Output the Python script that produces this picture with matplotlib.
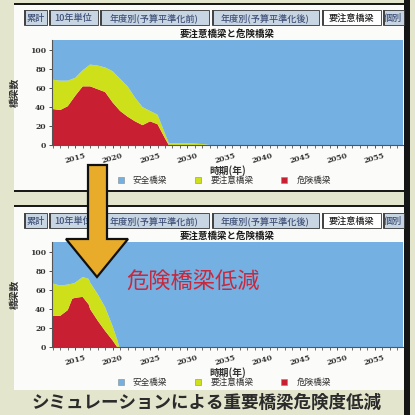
import matplotlib
matplotlib.use('Agg')
import matplotlib.pyplot as plt
from matplotlib.patches import Rectangle, Polygon
from matplotlib.lines import Line2D
from matplotlib.ticker import MultipleLocator
import numpy as np

plt.rcParams['font.family'] = ['Noto Sans CJK JP', 'DejaVu Sans']

# --- データ ---
tab_labels = ['累計', '10年単位', '年度別(予算平準化前)', '年度別(予算平準化後)', '要注意橋梁', '個別']
chart_title = '要注意橋梁と危険橋梁'
legend_labels = ['安全橋梁', '要注意橋梁', '危険橋梁']
total_bridges = 120

# 対策前 (上のグラフ)
years_before = [2012, 2013, 2014, 2015, 2016, 2017, 2018, 2019, 2020, 2021, 2022,
                2023, 2024, 2025, 2026, 2027, 2027.5, 2028, 2030, 2032, 2033, 2059]
warn_top_before = [69, 68, 68, 71, 79, 85, 84, 82, 78, 70, 62,
                   50, 40, 36, 32, 12, 2, 2, 2, 1, 0, 0]
danger_before = [38, 37, 41, 52, 62, 62, 59, 56, 45, 36, 30,
                 25, 21, 25, 22, 7, 0, 0, 0, 0, 0, 0]

# 対策後 (下のグラフ)
years_after = [2012, 2013, 2014, 2014.6, 2015, 2016, 2016.8, 2017, 2018, 2019,
               2020, 2020.6, 2020.9, 2059]
warn_top_after = [67, 65, 66, 67, 68, 74, 72, 68, 56, 42, 22, 8, 0, 0]
danger_after = [33, 33, 39, 51, 52, 53, 45, 40, 28, 17, 7, 0, 0, 0]

C_SAFE = '#74b0e2'
C_WARN = '#cde01a'
C_DANGER = '#c81f32'

W = H = 415


def fbox(x0, y0, x1, y1):
    """ピクセル座標(左上原点)を図の座標に変換"""
    return [x0 / W, 1 - y1 / H, (x1 - x0) / W, (y1 - y0) / H]


def fxy(x, y):
    return (x / W, 1 - y / H)


fig = plt.figure(figsize=(4.15, 4.15), dpi=100)
fig.patch.set_facecolor('#e3e5cc')


def add_rect(x0, y0, x1, y1, fc, ec='none', lw=0, z=0.5):
    r = Rectangle((x0 / W, 1 - y1 / H), (x1 - x0) / W, (y1 - y0) / H,
                  transform=fig.transFigure, facecolor=fc, edgecolor=ec,
                  linewidth=lw, zorder=z)
    fig.add_artist(r)


def draw_panel(top, bottom, years, warn_top, danger, ax_top, ax_bottom, y_tabs):
    # パネル背景
    add_rect(14, top, 405, bottom, '#fbfbf9', z=0.1)
    add_rect(14, top - 2, 405, top, '#1a1a1a', z=0.2)

    # タブ
    tab_x = [(24, 47), (49, 98), (100, 209), (212, 319), (322, 381), (383, 404)]
    for i, (label, (x0, x1)) in enumerate(zip(tab_labels, tab_x)):
        selected = label == '要注意橋梁'
        add_rect(x0, y_tabs, x1, y_tabs + 15, '#ffffff' if selected else '#c8d5e2',
                 ec='#333333', lw=0.6, z=0.3)
        add_rect(x0, y_tabs, x0 + 1.5, y_tabs + 15, '#444444', z=0.35)
        fig.text(*fxy((x0 + x1) / 2, y_tabs + 8), label, ha='center', va='center',
                 fontsize=6.6, fontweight='medium',
                 color='#222222' if selected else '#3f5078', clip_on=True)

    ax = fig.add_axes(fbox(52, ax_top, 403, ax_bottom))
    ax.set_zorder(1)
    years = np.array(years)
    warn_top = np.array(warn_top)
    danger = np.array(danger)
    safe = total_bridges - warn_top
    ax.stackplot(years, danger, warn_top - danger, safe,
                 colors=[C_DANGER, C_WARN, C_SAFE], linewidth=0)
    ax.set_xlim(2011.9, 2058.8)
    ax.set_ylim(0, 111)
    ax.set_yticks(range(0, 101, 20))
    ax.xaxis.set_major_locator(MultipleLocator(5))
    ax.xaxis.set_minor_locator(MultipleLocator(1))
    ax.set_xticks(range(2015, 2056, 5))
    ax.tick_params(axis='both', labelsize=5.5, length=2.5, width=0.6,
                   colors='#333333', pad=2)
    ax.tick_params(axis='x', which='minor', length=2, width=0.5, colors='#333333')
    for lab in ax.get_xticklabels():
        lab.set_rotation(15)
        lab.set_fontweight('bold')
        lab.set_family('DejaVu Serif')
    for lab in ax.get_yticklabels():
        lab.set_fontweight('bold')
        lab.set_family('DejaVu Serif')
    for s in ['top', 'right']:
        ax.spines[s].set_visible(False)
    for s in ['left', 'bottom']:
        ax.spines[s].set_color('#555555')
        ax.spines[s].set_linewidth(0.8)

    ax.set_title(chart_title, fontsize=6.8, fontweight='bold', color='#1a1a1a', pad=2)
    ax.set_ylabel('橋梁数', fontsize=7, fontweight='bold', color='#333333')
    ax.yaxis.set_label_coords(-0.092, 0.5)
    ax.set_xlabel('時期(年)', fontsize=7, fontweight='bold', color='#333333')
    ax.xaxis.set_label_coords(0.5, -0.19)

    handles = [Line2D([], [], marker='s', linestyle='none', markersize=4.5,
                      markerfacecolor=c, markeredgecolor='#888888', markeredgewidth=0.4)
               for c in [C_SAFE, C_WARN, C_DANGER]]
    ax.legend(handles, legend_labels, loc='center', bbox_to_anchor=(0.49, -0.335),
              ncol=3, frameon=False, fontsize=6.2, handlelength=0.8,
              columnspacing=3.2, handletextpad=1.0, labelcolor='#333333')
    return ax


draw_panel(5, 190, years_before, warn_top_before, danger_before, 40, 145, 10)
add_rect(14, 190, 405, 192, '#1a1a1a', z=0.2)
draw_panel(207, 390, years_after, warn_top_after, danger_after, 242, 347, 213)

# 右側の黒い縁
add_rect(404, 0, 410, 415, '#151515', z=0.2)

# 矢印
arrow_pts = [(88, 165), (107, 165), (107, 239), (128, 239), (97, 277),
             (66, 239), (88, 239)]
arrow = Polygon([fxy(x, y) for x, y in arrow_pts], closed=True,
                transform=fig.transFigure, facecolor='#e8ab2a',
                edgecolor='#111111', linewidth=1.6, zorder=5)
fig.add_artist(arrow)

fig.text(*fxy(126, 282), '危険橋梁低減', ha='left', va='center', fontsize=16,
         color='#c8283c', zorder=6)

fig.text(*fxy(207, 403), 'シミュレーションによる重要橋梁危険度低減',
         ha='center', va='center', fontsize=12.6, fontweight='bold',
         color='#2b2b2b')

fig.savefig('out.png', dpi=100)
